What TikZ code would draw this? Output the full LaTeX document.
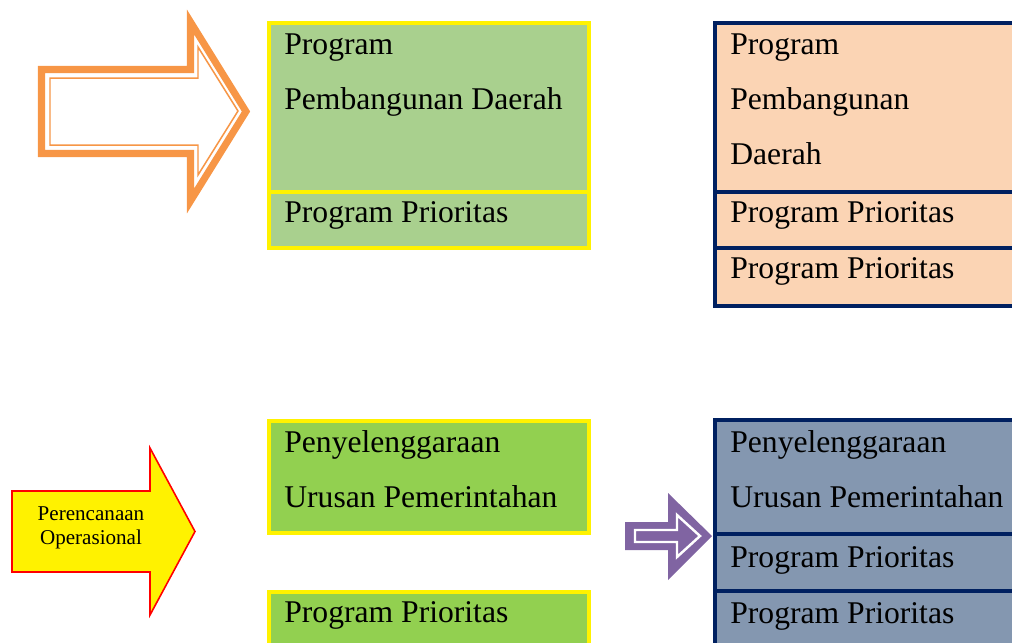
\documentclass[tikz,border=0pt]{standalone}
\usepackage{fontspec}
\setmainfont{Liberation Serif}
\usepackage{tikz}

\definecolor{hijaumuda}{RGB}{169,208,142}
\definecolor{hijau}{RGB}{146,208,80}
\definecolor{krem}{RGB}{251,212,180}
\definecolor{abu}{RGB}{132,151,176}
\definecolor{biru}{RGB}{0,32,96}
\definecolor{oranye}{RGB}{247,150,70}
\definecolor{ungu}{RGB}{128,100,162}

\begin{document}
\begin{tikzpicture}[x=0.02cm, y=-0.02cm,
        teks/.style={anchor=base west, inner sep=0pt, font=\fontsize{18}{20}\selectfont},
        kuning/.style={draw=yellow, line width=1.9pt},
        navy/.style={draw=biru, line width=1.9pt}]
        \useasboundingbox (0,0) rectangle (1012,643);
        \clip (0,0) rectangle (1012,643);

        % panah oranye
        \draw[oranye, fill=white, line width=4pt, line join=miter]
            (41.5,69.5) -- (190.5,69.5) -- (190.5,22) -- (246,111.5) -- (190.5,201) -- (190.5,153.5) -- (41.5,153.5) -- cycle;
        \draw[oranye, line width=0.85pt, line join=miter]
            (50,78) -- (198,78) -- (198,47) -- (238,111) -- (198,175) -- (198,145) -- (50,145) -- cycle;

        % panah kuning
        \draw[red, fill=yellow, line width=0.9pt, line join=miter]
            (12,491) -- (150,491) -- (150,448) -- (195,531.5) -- (150,615) -- (150,572) -- (12,572) -- cycle;
        \node[align=center, inner sep=0pt, font=\fontsize{12}{13.6}\selectfont] (op) at (91,527.5) {Perencanaan\\Operasional};

        % panah ungu
        \fill[ungu] (625,522) -- (668,522) -- (668,493) -- (712,536) -- (668,580) -- (668,550) -- (625,550) -- cycle;
        \draw[white, line width=1.4pt, line join=miter]
            (635,530) -- (677,530) -- (677,515) -- (700,536) -- (677,557) -- (677,542) -- (635,542) -- cycle;

        % kotak kiri atas
        \filldraw[kuning, fill=hijaumuda] (269,23) rectangle (589,192);
        \filldraw[kuning, fill=hijaumuda] (269,192) rectangle (589,248);
        \node[teks] (1) at (284,54) {Program};
        \node[teks] (2) at (284,109) {Pembangunan Daerah};
        \node[teks] (3) at (284,222) {Program Prioritas};

        % kotak kanan atas
        \filldraw[navy, fill=krem] (715,23) rectangle (1030,192);
        \filldraw[navy, fill=krem] (715,192) rectangle (1030,248);
        \filldraw[navy, fill=krem] (715,248) rectangle (1030,306);
        \node[teks] (4) at (730,54) {Program};
        \node[teks] (5) at (730,109) {Pembangunan};
        \node[teks] (6) at (730,164) {Daerah};
        \node[teks] (7) at (730,222) {Program Prioritas};
        \node[teks] (8) at (730,278) {Program Prioritas};

        % kotak kiri bawah
        \filldraw[kuning, fill=hijau] (269,421) rectangle (589,533);
        \filldraw[kuning, fill=hijau] (269,592) rectangle (589,670);
        \node[teks] (9) at (284,452) {Penyelenggaraan};
        \node[teks] (10) at (284,507) {Urusan Pemerintahan};
        \node[teks] (11) at (284,622) {Program Prioritas};

        % kotak kanan bawah
        \filldraw[navy, fill=abu] (715,420) rectangle (1030,534);
        \filldraw[navy, fill=abu] (715,534) rectangle (1030,591);
        \filldraw[navy, fill=abu] (715,591) rectangle (1030,670);
        \node[teks] (12) at (730,452) {Penyelenggaraan};
        \node[teks] (13) at (730,507) {Urusan Pemerintahan};
        \node[teks] (14) at (730,567) {Program Prioritas};
        \node[teks] (15) at (730,623) {Program Prioritas};
\end{tikzpicture}
\end{document}
